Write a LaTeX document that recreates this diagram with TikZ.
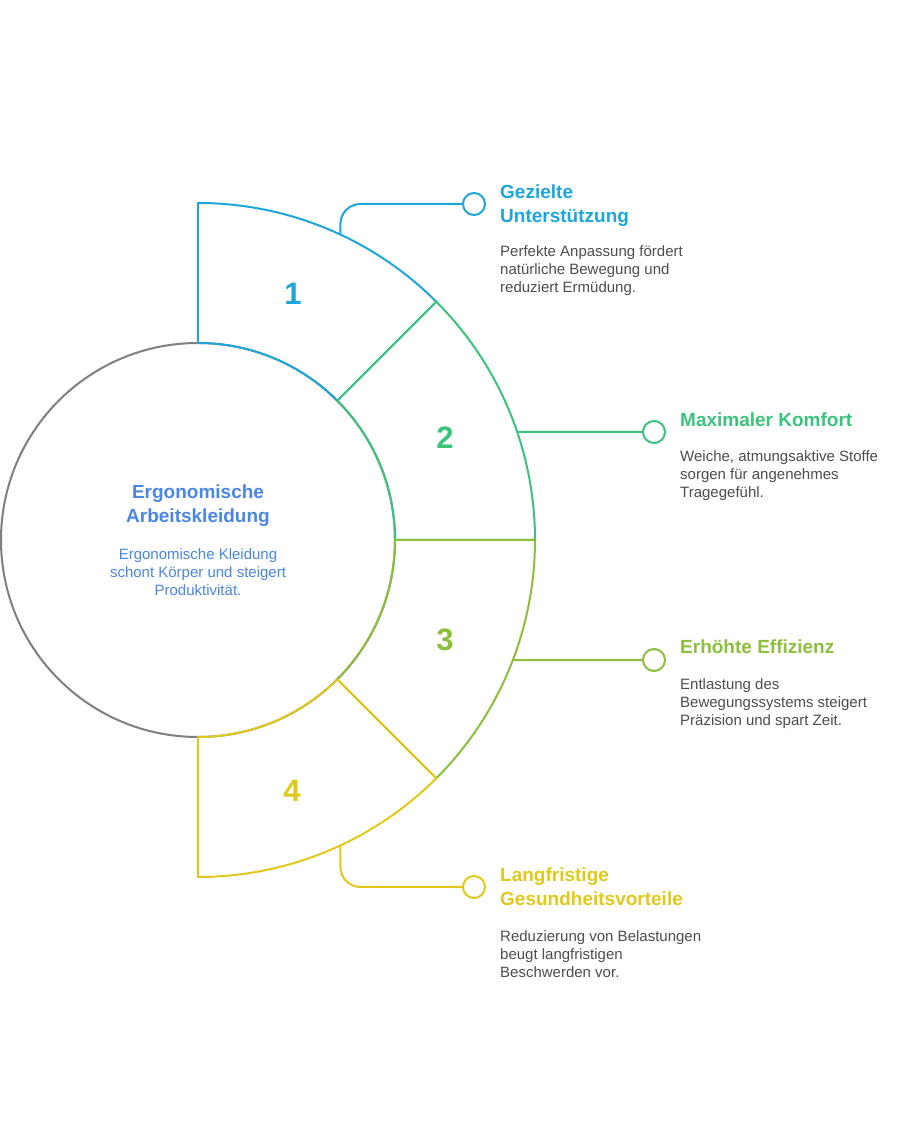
\documentclass[tikz,border=0pt]{standalone}
\usepackage{fontspec}
\setmainfont{Liberation Sans}
\definecolor{cone}{HTML}{1DA6D9}
\definecolor{ctwo}{HTML}{3BC37D}
\definecolor{cthree}{HTML}{8DBE3C}
\definecolor{cfour}{HTML}{E0C91A}
\definecolor{cmid}{HTML}{4A86E3}
\definecolor{cring}{HTML}{7F7F7F}
\definecolor{ctext}{HTML}{4D4D4D}
\begin{document}
\begin{tikzpicture}[x=1pt,y=1pt,
    title/.style={draw=none,align=left,anchor=north west,inner sep=0pt,font=\bfseries\fontsize{19}{24}\selectfont},
    body/.style={draw=none,align=left,anchor=north west,inner sep=0pt,text=ctext,font=\fontsize{15}{18}\selectfont},
    num/.style={draw=none,inner sep=0pt,font=\bfseries\fontsize{31}{31}\selectfont},
    dot/.style={circle,draw,fill=white,line width=2pt,minimum size=22pt,inner sep=0pt},
    seg/.style={line width=2pt,line join=round}]
    \fill [white] (0,0) rectangle (918,1130);
    \useasboundingbox (0,0) rectangle (918,1130);

    % centre
    \coordinate (c) at (198,590);
    \draw [cring,line width=2pt] (c) circle [radius=197];
    \node [title,align=center,anchor=north,text=cmid,name=ct] at (198,645) {Ergonomische\\Arbeitskleidung};
    \node [body,align=center,anchor=north,text=cmid,name=cb] at (198,582) {Ergonomische Kleidung\\schont Körper und steigert\\Produktivität.};

    % segment 1
    \draw [seg,cone] ([shift={(90:197)}]c) -- ([shift={(90:337)}]c) arc [start angle=90,end angle=45,radius=337] -- ([shift={(45:197)}]c) arc [start angle=45,end angle=90,radius=197] -- cycle;
    \node [num,text=cone,name=n1] at (293,836) {1};
    \coordinate (a1) at ([shift={(65:337)}]c);
    \node [dot,draw=cone,name=k1] at (474,926) {};
    \draw [seg,cone,rounded corners=20pt] (a1) |- (k1.west);
    \node [title,text=cone,name=h1] at (500,945) {Gezielte\\Unterstützung};
    \node [body,name=b1] at (500,885) {Perfekte Anpassung fördert\\natürliche Bewegung und\\reduziert Ermüdung.};

    % segment 2
    \draw [seg,ctwo] ([shift={(45:197)}]c) -- ([shift={(45:337)}]c) arc [start angle=45,end angle=0,radius=337] -- ([shift={(0:197)}]c) arc [start angle=0,end angle=45,radius=197] -- cycle;
    \node [num,text=ctwo,name=n2] at (445,692) {2};
    \coordinate (a2) at ([shift={(18.7:337)}]c);
    \node [dot,draw=ctwo,name=k2] at (654,698) {};
    \draw [seg,ctwo] (a2) -- (k2);
    \node [title,text=ctwo,name=h2] at (680,717) {Maximaler Komfort};
    \node [body,name=b2] at (680,680) {Weiche, atmungsaktive Stoffe\\sorgen für angenehmes\\Tragegefühl.};

    % segment 3
    \draw [seg,cthree] ([shift={(0:197)}]c) -- ([shift={(0:337)}]c) arc [start angle=0,end angle=-45,radius=337] -- ([shift={(-45:197)}]c) arc [start angle=-45,end angle=0,radius=197] -- cycle;
    \node [num,text=cthree,name=n3] at (445,490) {3};
    \coordinate (a3) at ([shift={(-20.9:337)}]c);
    \node [dot,draw=cthree,name=k3] at (654,470) {};
    \draw [seg,cthree] (a3) -- (k3);
    \node [title,text=cthree,name=h3] at (680,490) {Erhöhte Effizienz};
    \node [body,name=b3] at (680,452) {Entlastung des\\Bewegungssystems steigert\\Präzision und spart Zeit.};

    % segment 4
    \draw [seg,cfour] ([shift={(-45:197)}]c) -- ([shift={(-45:337)}]c) arc [start angle=-45,end angle=-90,radius=337] -- ([shift={(-90:197)}]c) arc [start angle=-90,end angle=-45,radius=197] -- cycle;
    \node [num,text=cfour,name=n4] at (292,339) {4};
    \coordinate (a4) at ([shift={(-65:337)}]c);
    \node [dot,draw=cfour,name=k4] at (474,243) {};
    \draw [seg,cfour,rounded corners=20pt] (a4) |- (k4.west);
    \node [title,text=cfour,name=h4] at (500,262) {Langfristige\\Gesundheitsvorteile};
    \node [body,name=b4] at (500,200) {Reduzierung von Belastungen\\beugt langfristigen\\Beschwerden vor.};
\end{tikzpicture}
\end{document}
